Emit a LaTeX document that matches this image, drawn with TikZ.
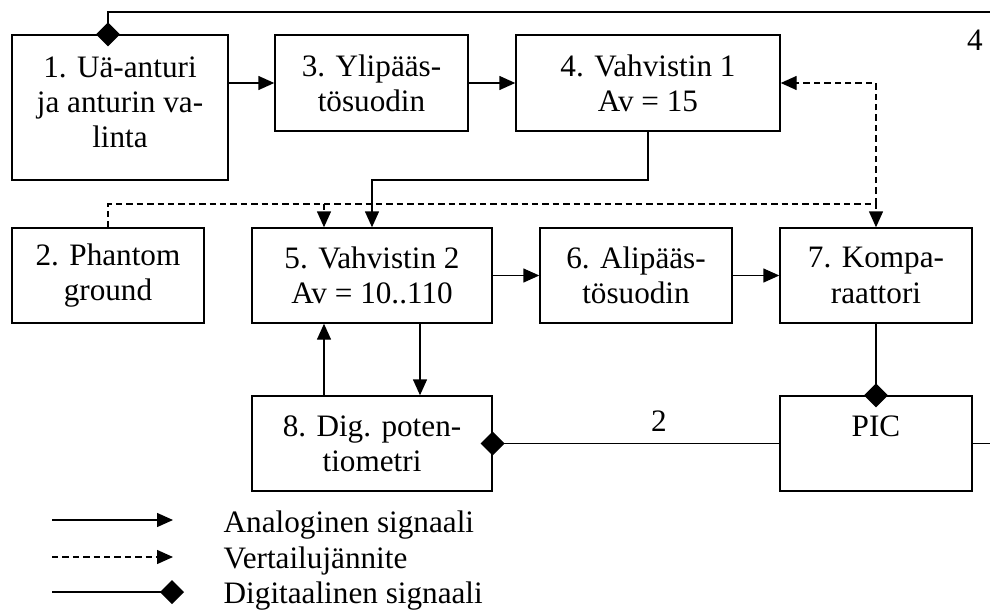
\documentclass[tikz,border=0pt]{standalone}
\usepackage{fontspec}
\setmainfont{Liberation Serif}
\usepackage{tikz}
\usetikzlibrary{arrows.meta, calc}

\begin{document}
\begin{tikzpicture}[
    x=0.5pt, y=-0.5pt,
    line width=0.7pt,
    every node/.style={font=\fontsize{15.6}{17.6}\selectfont},
    blok/.style={
        draw, minimum height=47.5pt, inner sep=0pt,
        align=center
    },
    selite/.style={anchor=base west, inner sep=0pt},
    ana/.style={-{Triangle[length=8pt, width=7pt]}},
    vert/.style={dash pattern=on 3.2pt off 2pt, -{Triangle[length=8pt, width=7pt]}},
    dig/.style={-{Diamond[length=12pt, width=12pt]}, shorten >=-6pt}
]
\useasboundingbox (0,0) rectangle (990,610);
\clip (0,0) rectangle (990,610);

\node[blok, minimum width=108pt, minimum height=72.5pt] (b1) at (120,107.5)
    {1. Uä-anturi\\ja anturin va-\\linta\strut};
\node[blok, minimum width=96.5pt, minimum height=48pt] (b3) at (371.5,83)
    {3. Ylipääs-\\tösuodin};
\node[blok, minimum width=132pt, minimum height=48pt] (b4) at (648,83)
    {4. Vahvistin 1\\Av = 15};
\node[blok, minimum width=96pt] (b2) at (108,275.5) {2. Phantom\\ground};
\node[blok, minimum width=120pt] (b5) at (372,275.5) {5. Vahvistin 2\\Av = 10..110};
\node[blok, minimum width=96pt] (b6) at (636,275.5) {6. Alipääs-\\tösuodin};
\node[blok, minimum width=96pt] (b7) at (876,275.5) {7. Kompa-\\raattori};
\node[blok, minimum width=120pt] (b8) at (372,443.5) {8. Dig. poten-\\tiometri};
\node[blok, minimum width=96pt] (pic) at (876,443.5) {PIC\\\mbox{}};

\coordinate (k45) at (372,180);
\coordinate (ref) at (876,204);
\coordinate (ref5) at (324,204);
\coordinate (ecke) at (1000,12);

\draw[ana] (b1.east |- b3.west) -- (b3.west);
\draw[ana] (b3.east) -- (b4.west);
\draw[ana] (b4.south) |- (k45) -- (b5.north);
\draw[ana] (b5.east) -- (b6.west);
\draw[ana] (b6.east) -- (b7.west);
\draw[ana] ($(b5.south)+(48,0)$) -- ($(b8.north)+(48,0)$);
\draw[ana] ($(b8.north)+(-48,0)$) -- ($(b5.south)+(-48,0)$);

\draw[vert] (b2.north) |- (ref) -- (b7.north);
\draw[vert] (ref) |- (b4.east);
\draw[vert] (ref5) -- (ref5 |- b5.north);

\draw[dig] (b7.south) -- (pic.north);
\draw[dig] (pic.west) -- node[pos=0.42, above=2.5pt] (n2) {2} (b8.east);
\draw[dig] (pic.east) -| (ecke) -| ($(b1.north)+(-12,0)$);

\node (n4) at (975,40) {4};

\coordinate (la1) at (52,520);
\coordinate (le1) at (173,520);
\coordinate (la2) at (52,557);
\coordinate (le2) at (173,557);
\coordinate (la3) at (52,592);
\coordinate (le3) at (172,592);

\draw[ana] (la1) -- (le1);
\draw[vert] (la2) -- (le2);
\draw[dig] (la3) -- (le3);

\node[selite] (t1) at (223,532) {Analoginen signaali};
\node[selite] (t2) at (223,568) {Vertailujännite};
\node[selite] (t3) at (223,603) {Digitaalinen signaali};

\end{tikzpicture}
\end{document}
